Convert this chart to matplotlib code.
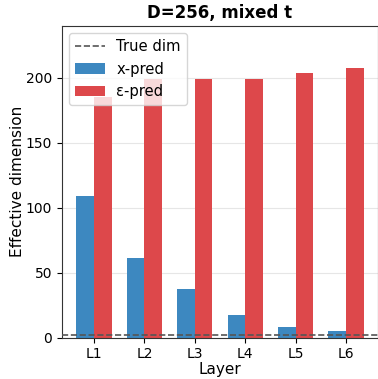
import matplotlib
matplotlib.use("Agg")
import matplotlib.pyplot as plt
import numpy as np

layers = ["L1", "L2", "L3", "L4", "L5", "L6"]
x_pred = [109, 61, 37, 17, 8, 5]
eps_pred = [185, 199, 199, 199, 204, 208]
true_dim = 2

fig = plt.figure(figsize=(3.78, 3.79), dpi=100)
ax = fig.add_axes([62/378, 1-337.5/379, (378-62)/378, (337.5-26)/379])

x = np.arange(len(layers))
w = 0.35
ax.bar(x - w/2, x_pred, w, color="#3d88c0", label="x-pred", zorder=2)
ax.bar(x + w/2, eps_pred, w, color="#dd484b", label="ε-pred", zorder=2)
ax.axhline(true_dim, color="#555555", linestyle="--", linewidth=1.2, label="True dim", zorder=3)

ax.set_xticks(x)
ax.set_xticklabels(layers, fontsize=10)
ax.tick_params(axis="y", labelsize=10)
ax.set_ylim(0, 240)
ax.set_yticks([0, 50, 100, 150, 200])
ax.set_xlim(-0.635, 5.635)
ax.grid(axis="y", color="#e6e6e6", linewidth=0.8, zorder=0)
ax.set_axisbelow(True)
ax.set_xlabel("Layer", fontsize=11, labelpad=0.5)
ax.set_ylabel("Effective dimension", fontsize=11, labelpad=1)
ax.set_title("D=256, mixed t", fontsize=12, fontweight="bold")
for s in ax.spines.values():
    s.set_color("#333333")

handles, labels = ax.get_legend_handles_labels()
order = [labels.index("True dim"), labels.index("x-pred"), labels.index("ε-pred")]
ax.legend([handles[i] for i in order], [labels[i] for i in order], loc="upper left", fontsize=10.6, framealpha=0.8)

fig.savefig("out.png", dpi=100)
